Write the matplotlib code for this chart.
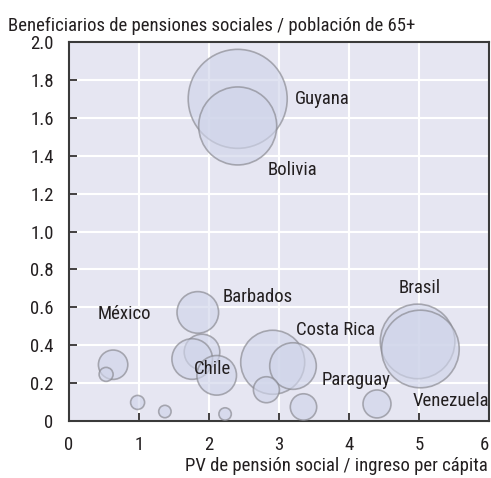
import numpy as np
import matplotlib.pyplot as plt
from matplotlib import font_manager

# condensed sans if present, else Roboto
names = {f.name for f in font_manager.fontManager.ttflist}
fam = [n for n in ['Liberation Sans Narrow', 'DejaVu Sans Condensed', 'Roboto Condensed',
                   'Roboto'] if n in names]
plt.rcParams['font.family'] = fam + ['DejaVu Sans']
FS = 13.5

# bubble data (two observations per country)
x_vals = [2.41, 2.41, 4.98, 5.02, 4.40, 3.35, 2.91, 3.20, 2.82,
          1.84, 1.90, 1.76, 2.11, 0.63, 0.53, 0.98, 1.37, 2.23]
y_vals = [1.70, 1.557, 0.42, 0.38, 0.09, 0.074, 0.31, 0.29, 0.165,
          0.573, 0.364, 0.327, 0.241, 0.297, 0.246, 0.098, 0.05, 0.037]
radius = [49.5, 39, 37.3, 38.8, 14, 13.2, 32, 23.3, 13,
          20.8, 17.8, 20.3, 19.8, 14.7, 7, 7, 6.2, 6.2]

labels = ['Guyana', 'Bolivia', 'Brasil', 'Costa Rica', 'Paraguay',
          'Venezuela', 'Barbados', 'Chile', 'México']
label_x = [3.23, 2.84, 4.71, 3.24, 3.61, 4.91, 2.19, 1.79, 0.41]
label_y = [1.70, 1.325, 0.70, 0.48, 0.216, 0.105, 0.654, 0.274, 0.565]

fig = plt.figure(figsize=(4.91, 4.78), dpi=100)
ax = fig.add_axes([69 / 491, 1 - 421 / 478, 420 / 491, 379 / 478])
ax.set_facecolor('#e6e6f2')

# sizes in points^2 from pixel radius
sizes = [(2 * r * 72 / 100) ** 2 for r in radius]
ax.scatter(x_vals, y_vals, s=sizes, facecolor='#d0d5ea', edgecolor='#85858c',
           linewidth=1.2, alpha=0.65, zorder=3)

for lab, lx, ly in zip(labels, label_x, label_y):
    ax.text(lx, ly, lab, fontsize=FS, color='#231f20', ha='left', va='center', zorder=4)

ax.set_xlim(0, 6)
ax.set_ylim(0, 2.0)
ax.set_xticks(np.arange(0, 7, 1))
ax.set_yticks(np.arange(0, 2.01, 0.2))
ax.set_xticklabels(['0', '1', '2', '3', '4', '5', '6'])
ax.set_yticklabels(['0', '0.2', '0.4', '0.6', '0.8', '1.0', '1.2', '1.4', '1.6', '1.8', '2.0'])
ax.get_xticklabels()[-1].set_horizontalalignment('right')
ax.grid(True, color='white', linewidth=1.5, zorder=0)
ax.set_axisbelow(True)
ax.tick_params(direction='in', length=6, width=1.2, color='#231f20',
               labelsize=FS, labelcolor='#231f20')
ax.tick_params(axis='x', pad=10.5)
ax.tick_params(axis='y', pad=11)
for sp in ax.spines.values():
    sp.set_color('#3a3a3a')
    sp.set_linewidth(1.5)

fig.text(8 / 491, 1 - 31 / 478, 'Beneficiarios de pensiones sociales / población de 65+',
         fontsize=FS, color='#231f20', ha='left', va='baseline')
fig.text(488 / 491, 1 - 471 / 478, 'PV de pensión social / ingreso per cápita',
         fontsize=FS, color='#231f20', ha='right', va='baseline')

fig.savefig('out.png', dpi=100)
